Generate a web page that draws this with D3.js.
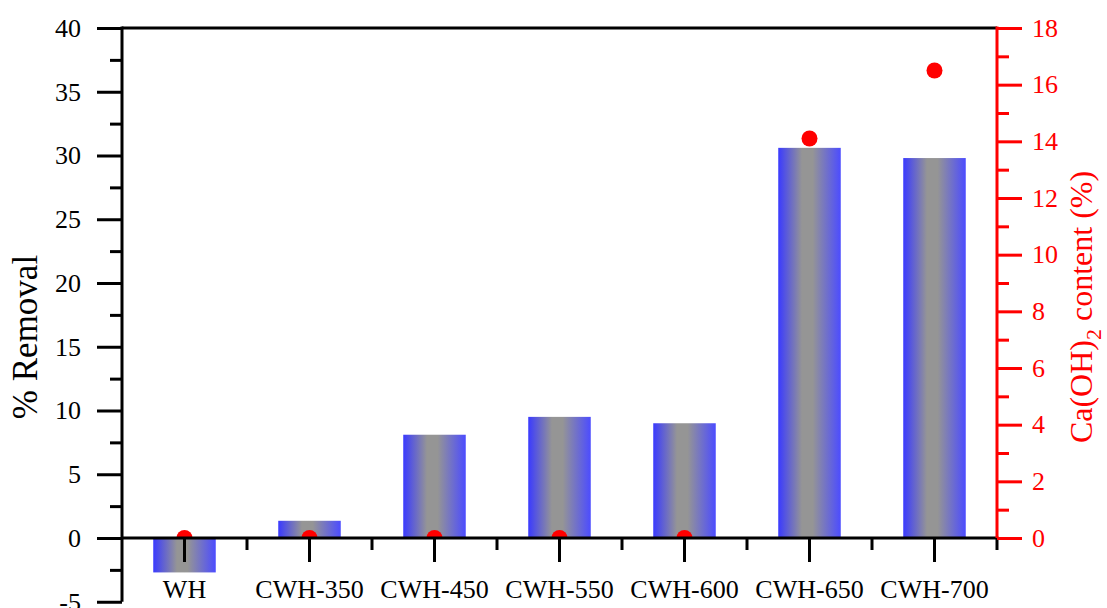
<!DOCTYPE html>
<html>
<head>
<meta charset="utf-8">
<script src="https://cdn.jsdelivr.net/npm/d3@7"></script>
<style>
  html, body { margin: 0; padding: 0; background: #fff; }
  svg { display: block; }
  text { font-family: "Liberation Serif", "Times New Roman", serif; }
</style>
</head>
<body>
<svg id="chart" width="1107" height="608"></svg>
<script>
// Sample labels (x categories)
const categories = ["WH", "CWH-350", "CWH-450", "CWH-550", "CWH-600", "CWH-650", "CWH-700"];
// % removal per sample (left axis, bars)
const removal = [-2.7, 1.35, 8.1, 9.5, 9.0, 30.6, 29.8];
// Ca(OH)2 content per sample (right axis, dots)
const caoh2 = [0, 0, 0, 0, 0, 14.1, 16.5];
// Axis ticks
const leftTicks = [-5, 0, 5, 10, 15, 20, 25, 30, 35, 40];
const leftMinor = [-2.5, 2.5, 7.5, 12.5, 17.5, 22.5, 27.5, 32.5, 37.5];
const rightTicks = [0, 2, 4, 6, 8, 10, 12, 14, 16, 18];
const rightMinor = [1, 3, 5, 7, 9, 11, 13, 15, 17];

const SERIF = "'Liberation Serif', 'Times New Roman', serif";
const svg = d3.select("#chart");
const plotL = 122, plotR = 997, plotT = 28;
const fontSize = 26;

const x = d3.scaleBand().domain(categories).range([plotL, plotR]).paddingInner(0).paddingOuter(0);
const yL = d3.scaleLinear().domain([-5, 40]).range([601.75, plotT]);
const yR = d3.scaleLinear().domain([0, 18]).range([yL(0), plotT]);

// Bar fill: blue edges fading into a grey centre
const defs = svg.append("defs");
const grad = defs.append("linearGradient").attr("id", "barFill")
  .attr("x1", "0").attr("x2", "1").attr("y1", "0").attr("y2", "0");
[[0, "#3a3aff"], [0.38, "#959595"], [0.55, "#959595"], [1, "#4c4cff"]].forEach(([o, c]) =>
  grad.append("stop").attr("offset", o).attr("stop-color", c));

defs.append("clipPath").attr("id", "rightClip").append("rect")
  .attr("x", plotL).attr("y", plotT).attr("width", plotR - plotL).attr("height", yR(0) - plotT);

// Bars
const bw = x.bandwidth() * 0.5;
svg.append("g").selectAll("rect").data(categories).join("rect")
  .attr("x", d => x(d) + (x.bandwidth() - bw) / 2)
  .attr("width", bw)
  .attr("y", (d, i) => yL(Math.max(0, removal[i])))
  .attr("height", (d, i) => Math.abs(yL(removal[i]) - yL(0)))
  .attr("fill", "url(#barFill)");

// Ca(OH)2 dots
svg.append("g").attr("clip-path", "url(#rightClip)").selectAll("circle").data(categories).join("circle")
  .attr("cx", d => x(d) + x.bandwidth() / 2)
  .attr("cy", (d, i) => yR(caoh2[i]))
  .attr("r", 8)
  .attr("fill", "#ff0000");

// Top frame line
svg.append("line").attr("x1", plotL).attr("x2", plotR).attr("y1", plotT).attr("y2", plotT)
  .attr("stroke", "#000").attr("stroke-width", 3);

function styleAxis(g, color) {
  g.select(".domain").remove();
  g.attr("font-family", null);
  g.selectAll(".tick line").attr("stroke", color).attr("stroke-width", 3);
  g.selectAll(".tick text").attr("fill", color).style("font-size", fontSize + "px")
    .style("font-family", SERIF);
}
const plain = d => String(d);

// Left axis
const gL = svg.append("g").attr("transform", `translate(${plotL},0)`)
  .call(d3.axisLeft(yL).tickValues(leftTicks).tickSize(25).tickPadding(16).tickFormat(plain));
styleAxis(gL, "#000");
svg.append("g").attr("transform", `translate(${plotL},0)`)
  .call(d3.axisLeft(yL).tickValues(leftMinor).tickSize(12).tickFormat(""))
  .call(g => styleAxis(g, "#000"));
svg.append("line").attr("x1", plotL).attr("x2", plotL).attr("y1", plotT - 1.5).attr("y2", yL(-5))
  .attr("stroke", "#000").attr("stroke-width", 3);

// Bottom axis along zero
const gX = svg.append("g").attr("transform", `translate(0,${yL(0)})`)
  .call(d3.axisBottom(x).tickSize(24).tickPadding(18));
styleAxis(gX, "#000");
const bounds = categories.map(c => x(c)).concat([plotR]);
svg.append("g").selectAll("line").data(bounds.slice(1)).join("line")
  .attr("x1", d => d).attr("x2", d => d).attr("y1", yL(0)).attr("y2", yL(0) + 12)
  .attr("stroke", "#000").attr("stroke-width", 3);
svg.append("line").attr("x1", plotL).attr("x2", plotR + 1.5).attr("y1", yL(0)).attr("y2", yL(0))
  .attr("stroke", "#000").attr("stroke-width", 3);

// Right axis
const gR = svg.append("g").attr("transform", `translate(${plotR},0)`)
  .call(d3.axisRight(yR).tickValues(rightTicks).tickSize(25).tickPadding(10).tickFormat(plain));
styleAxis(gR, "#ff0000");
svg.append("g").attr("transform", `translate(${plotR},0)`)
  .call(d3.axisRight(yR).tickValues(rightMinor).tickSize(12).tickFormat(""))
  .call(g => styleAxis(g, "#ff0000"));
svg.append("line").attr("x1", plotR).attr("x2", plotR).attr("y1", plotT - 1.5).attr("y2", yR(0))
  .attr("stroke", "#ff0000").attr("stroke-width", 3);

// Axis titles
svg.append("text").attr("transform", "translate(37,337) rotate(-90)")
  .attr("text-anchor", "middle").style("font-size", "35px").style("font-family", SERIF)
  .attr("fill", "#000")
  .text("% Removal");

const rt = svg.append("text").attr("transform", "translate(1092,307) rotate(-90)")
  .attr("text-anchor", "middle").style("font-size", "32px").style("font-family", SERIF)
  .attr("fill", "#ff0000");
rt.append("tspan").text("Ca(OH)");
rt.append("tspan").attr("dy", 9).style("font-size", "22px").text("2");
rt.append("tspan").attr("dy", -9).text(" content (%)");
</script>
</body>
</html>
